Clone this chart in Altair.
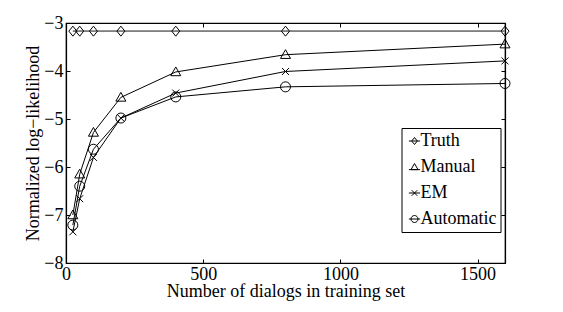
import altair as alt
import pandas as pd

# Data
dialogs = [25, 50, 100, 200, 400, 800, 1600]
truth = [-3.17, -3.17, -3.17, -3.17, -3.17, -3.17, -3.17]
manual = [-7.0, -6.15, -5.28, -4.55, -4.02, -3.66, -3.44]
em = [-7.35, -6.66, -5.8, -4.98, -4.46, -4.01, -3.79]
automatic = [-7.21, -6.4, -5.63, -4.98, -4.54, -4.33, -4.26]

series_names = ["Truth", "Manual", "EM", "Automatic"]
series_values = [truth, manual, em, automatic]
x_ticks = [0, 500, 1000, 1500]
y_ticks = [-8, -7, -6, -5, -4, -3]

rows = []
for name, vals in zip(series_names, series_values):
    for i, (xv, yv) in enumerate(zip(dialogs, vals)):
        rows.append({"series": name, "dialogs": xv, "ll": yv, "order": i})
df = pd.DataFrame(rows)

FONT = "Liberation Serif"
FS = 18

shape_paths = [
    "M0,-1L0.8,0L0,1L-0.8,0Z",
    "M0,-1L1,0.75L-1,0.75Z",
    "M-0.7,-0.7L0.7,0.7M-0.7,0.7L0.7,-0.7",
    "circle",
]
legend_paths = [
    "M0,-1L0.8,0L0,1L-0.8,0ZM-1.6,0L1.6,0",
    "M0,-1L1,0.75L-1,0.75ZM-1.6,0.75L1.6,0.75",
    "M-0.8,-0.8L0.8,0.8M-0.8,0.8L0.8,-0.8M-1.6,0L1.6,0",
    "M-1,0A1,1 0 1,1 1,0A1,1 0 1,1 -1,0ZM-1.6,0L1.6,0",
]

xscale = alt.Scale(domain=[0, 1600], nice=False, zero=False)
yscale = alt.Scale(domain=[-8, -3], nice=False, zero=False)

lines = alt.Chart(df).mark_line(strokeWidth=1).encode(
    x=alt.X("dialogs:Q", scale=xscale,
            axis=alt.Axis(values=x_ticks, orient="bottom", title="Number of dialogs in training set",
                          format="d",
                          tickSize=alt.ExprRef("-4"), labelPadding=20, labelBaseline="alphabetic",
                          labelFlush=False,
                          titleX=219.5, titleY=33, titleAlign="center", titleBaseline="alphabetic",
                          grid=False)),
    y=alt.Y("ll:Q", scale=yscale,
            axis=alt.Axis(values=y_ticks, orient="left", title="Normalized log\u2212likelihood",
                          format="d",
                          tickSize=alt.ExprRef("-4"), labelPadding=7, labelFlush=False,
                          titleX=-28, titleY=120, titleAngle=270, titleAlign="center",
                          titleBaseline="alphabetic", grid=False)),
    color=alt.Color("series:N", scale=alt.Scale(domain=series_names,
                                                range=["#808080", "black", "black", "black"]),
                    legend=None),
    detail="series:N",
    order="order:Q",
)

truth_width = alt.Chart(df).mark_line(strokeWidth=1.8, color="#808080").encode(
    x=alt.X("dialogs:Q", scale=xscale, axis=None),
    y=alt.Y("ll:Q", scale=yscale, axis=None),
).transform_filter(alt.datum.series == "Truth")

points = alt.Chart(df).mark_point(filled=False, size=100, strokeWidth=1, color="black", opacity=1).encode(
    x=alt.X("dialogs:Q", scale=xscale,
            axis=alt.Axis(values=x_ticks, orient="top", title=None, labels=False,
                          tickSize=alt.ExprRef("-4"), grid=False)),
    y=alt.Y("ll:Q", scale=yscale,
            axis=alt.Axis(values=y_ticks, orient="right", title=None, labels=False,
                          tickSize=alt.ExprRef("-4"), grid=False)),
    shape=alt.Shape("series:N", scale=alt.Scale(domain=series_names, range=shape_paths),
                    legend=None),
)

legend_layer = alt.Chart(df).mark_point(filled=False, size=1, color="black", opacity=0).encode(
    x=alt.X("dialogs:Q", scale=xscale, axis=None),
    y=alt.Y("ll:Q", scale=yscale, axis=None),
    shape=alt.Shape("series:N", scale=alt.Scale(domain=series_names, range=legend_paths),
                    legend=alt.Legend(
                        title=None, orient="none", legendX=335.5, legendY=105,
                        strokeColor="black", fillColor="white", padding=4, cornerRadius=0,
                        symbolSize=49, symbolStrokeColor="black", symbolFillColor="transparent",
                        symbolStrokeWidth=1, symbolOpacity=1,
                        labelFont=FONT, labelFontSize=FS, labelColor="black",
                        labelOffset=alt.ExprRef("-3"), rowPadding=8,
                    )),
)

chart = alt.layer(lines, truth_width, points, legend_layer).resolve_axis(
    x="independent", y="independent"
).resolve_scale(shape="independent").properties(
    width=439, height=240,
    background="white",
    autosize=alt.AutoSizeParams(type="none"),
    padding={"left": 58, "top": 15, "right": 50, "bottom": 40},
).configure_view(
    stroke="black", strokeWidth=1.2
).configure_axis(
    domainColor="black", domainWidth=1.2, tickColor="black", tickWidth=1,
    labelFont=FONT, labelFontSize=FS, labelColor="black",
    titleFont=FONT, titleFontSize=FS, titleColor="black", titleFontWeight="normal",
)

chart.save("out.html", embed_options={"renderer": "svg", "actions": False})
